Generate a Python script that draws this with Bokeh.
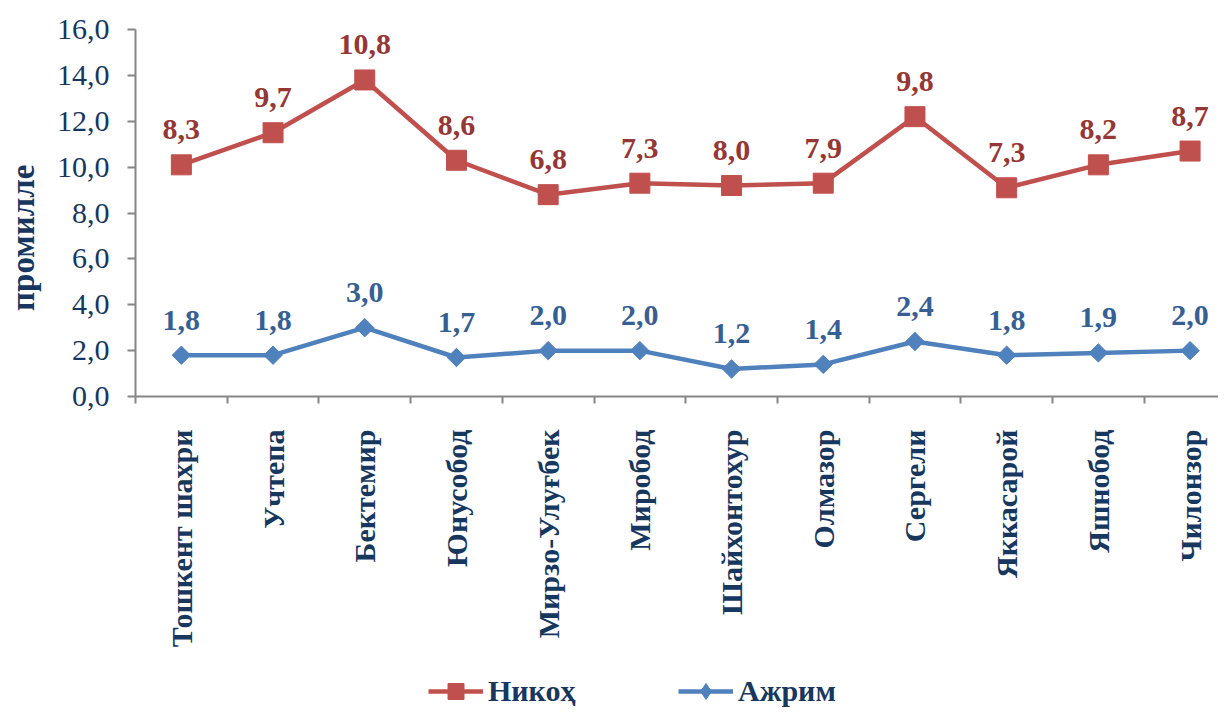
import numpy as np
from bokeh.plotting import figure
from bokeh.layouts import column
from bokeh.models import (FixedTicker, CustomJSTickFormatter, Range1d, Legend, LegendItem)
from bokeh.embed import file_html
from bokeh.resources import INLINE
from bokeh.core.properties import value

districts = ["Тошкент шахри", "Учтепа", "Бектемир", "Юнусобод", "Мирзо-Улуғбек",
             "Миробод", "Шайхонтохур", "Олмазор", "Сергели", "Яккасарой",
             "Яшнобод", "Чилонзор"]
nikoh = [8.3, 9.7, 10.8, 8.6, 6.8, 7.3, 8.0, 7.9, 9.8, 7.3, 8.2, 8.7]
ajrim = [1.8, 1.8, 3.0, 1.7, 2.0, 2.0, 1.2, 1.4, 2.4, 1.8, 1.9, 2.0]
y_ticks = [0, 2, 4, 6, 8, 10, 12, 14, 16]
series_names = ["Никоҳ", "Ажрим"]
y_title = "промилле"

FONT_NAME = "Liberation Serif"
FONT = value(FONT_NAME)
NAVY = "#17375E"
RED = "#C0504D"
RED_TXT = "#953735"
BLUE = "#4F81BD"
BLUE_TXT = "#376092"
AXIS = "#868686"

x = list(range(len(districts)))
stacked = [n + a for n, a in zip(nikoh, ajrim)]   # stacked line chart
fmt = lambda v: f"{v:.1f}".replace(".", ",")

p = figure(width=1218, height=656, x_range=Range1d(-0.5, 11.31), y_range=Range1d(0, 16),
           output_backend="svg", toolbar_location=None,
           min_border_left=135, min_border_top=29, min_border_bottom=260, min_border_right=0)
p.outline_line_color = None
p.grid.visible = False

# axes
p.yaxis.ticker = FixedTicker(ticks=y_ticks)
p.yaxis.formatter = CustomJSTickFormatter(code="return tick.toFixed(1).replace('.', ',');")
p.yaxis.major_tick_out = 8
p.yaxis.major_tick_in = 0
p.yaxis.minor_tick_out = 0
p.yaxis.minor_tick_in = 0
p.yaxis.major_label_standoff = 18
p.yaxis.major_label_text_font = FONT_NAME
p.yaxis.major_label_text_font_size = "30px"
p.yaxis.major_label_text_color = NAVY
p.yaxis.axis_label = y_title + "\u00a0" * 6
p.yaxis.axis_label_text_font = FONT_NAME
p.yaxis.axis_label_text_font_style = "bold"
p.yaxis.axis_label_text_font_size = "33px"
p.yaxis.axis_label_text_color = NAVY
p.yaxis.axis_label_standoff = 13

p.xaxis.ticker = FixedTicker(ticks=x, minor_ticks=[i - 0.5 for i in range(len(x) + 1)])
p.xaxis.formatter = CustomJSTickFormatter(args=dict(names=districts),
                                          code="return names[Math.round(tick)] || '';")
p.xaxis.major_label_orientation = np.pi / 2
p.xaxis.major_tick_out = 0
p.xaxis.major_tick_in = 0
p.xaxis.minor_tick_out = 7
p.xaxis.minor_tick_in = 0
p.xaxis.major_label_standoff = 26
p.xaxis.major_label_text_font = FONT_NAME
p.xaxis.major_label_text_font_style = "bold"
p.xaxis.major_label_text_font_size = "30px"
p.xaxis.major_label_text_color = NAVY

for ax in (p.xaxis, p.yaxis):
    ax.axis_line_color = AXIS
    ax.axis_line_width = 2
    ax.major_tick_line_color = AXIS
    ax.major_tick_line_width = 2
    ax.minor_tick_line_color = AXIS
    ax.minor_tick_line_width = 2

# series
p.line(x, stacked, line_color=RED, line_width=4.5)
p.scatter(x, stacked, marker="square", size=20, fill_color=RED, line_color=RED)
p.line(x, ajrim, line_color=BLUE, line_width=4.5)
p.scatter(x, ajrim, marker="square", size=13, angle=np.pi / 4,
          fill_color=BLUE, line_color=BLUE)

p.text(x, stacked, text=[fmt(v) for v in nikoh], text_align="center",
       text_baseline="alphabetic", y_offset=-35, text_font=FONT, text_font_style="bold",
       text_font_size="30px", text_color=RED_TXT)
p.text(x, ajrim, text=[fmt(v) for v in ajrim], text_align="center",
       text_baseline="alphabetic", y_offset=-35, text_font=FONT, text_font_style="bold",
       text_font_size="30px", text_color=BLUE_TXT)

# legend in its own strip below the chart (its glyph renderers sit outside the visible range)
lg = figure(width=1218, height=55, x_range=Range1d(0, 1), y_range=Range1d(0, 1),
            x_axis_type=None, y_axis_type=None,
            output_backend="svg", toolbar_location=None, min_border=0)
lg.grid.visible = False
lg.outline_line_color = None
hid_x = [-10, -9]
hid_y = [-10, -10]
rl = lg.line(hid_x, hid_y, line_color=RED, line_width=4.5)
rm = lg.scatter(hid_x, hid_y, marker="square", size=20, fill_color=RED, line_color=RED)
bl = lg.line(hid_x, hid_y, line_color=BLUE, line_width=4.5)
bm = lg.scatter(hid_x, hid_y, marker="diamond", size=20, fill_color=BLUE, line_color=BLUE)
legend = Legend(items=[LegendItem(label=series_names[0], renderers=[rl, rm]),
                       LegendItem(label=series_names[1], renderers=[bl, bm])],
                orientation="horizontal", location=(293, 0))
legend.label_text_font = FONT_NAME
legend.label_text_font_style = "bold"
legend.label_text_font_size = "30px"
legend.label_text_color = NAVY
legend.glyph_width = 55
legend.glyph_height = 40
legend.label_width = 180
legend.label_standoff = 5
legend.spacing = 10
legend.padding = 0
legend.border_line_color = None
legend.background_fill_alpha = 0
legend.margin = 0
lg.add_layout(legend)

open("out.html", "w").write(file_html(column(p, lg), INLINE))
